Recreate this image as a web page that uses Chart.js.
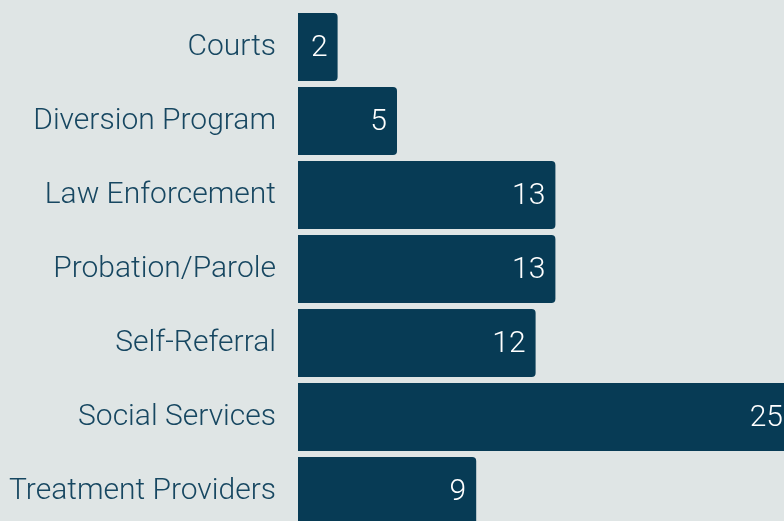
<!DOCTYPE html>
<html>
<head>
<meta charset="utf-8">
<script src="https://cdn.jsdelivr.net/npm/chart.js@4"></script>
<style>
  html, body { margin: 0; padding: 0; background: #dfe5e5; overflow: hidden; }
  #wrap { width: 784px; height: 521px; overflow: hidden; }
  canvas { display: block; }
</style>
</head>
<body>
<div id="wrap"><canvas id="referrals" width="800" height="528"></canvas></div>
<script>
const categories = [
  "Courts",
  "Diversion Program",
  "Law Enforcement",
  "Probation/Parole",
  "Self-Referral",
  "Social Services",
  "Treatment Providers",
];
const referralCounts = [2, 5, 13, 13, 12, 25, 9];

const BAR_COLOR = "#073b55";
const LABEL_COLOR = "#174761";
const FONT = "Roboto, 'Liberation Sans', sans-serif";

// writes each count inside the end of its bar
const valueLabels = {
  id: "valueLabels",
  afterDatasetsDraw(chart) {
    const { ctx } = chart;
    const meta = chart.getDatasetMeta(0);
    ctx.save();
    ctx.font = `300 30px ${FONT}`;
    ctx.fillStyle = "#ffffff";
    ctx.textAlign = "right";
    ctx.textBaseline = "middle";
    meta.data.forEach((bar, i) => {
      ctx.fillText(String(referralCounts[i]), bar.x - 10, bar.y + 1);
    });
    ctx.restore();
  },
};

new Chart(document.getElementById("referrals"), {
  type: "bar",
  data: {
    labels: categories,
    datasets: [{
      data: referralCounts,
      backgroundColor: BAR_COLOR,
      borderRadius: 4,
      borderSkipped: "start",
      barPercentage: 0.92,
      categoryPercentage: 1,
    }],
  },
  options: {
    indexAxis: "y",
    responsive: false,
    animation: false,
    layout: { padding: { top: 10, right: 7, bottom: 0, left: 0 } },
    plugins: {
      legend: { display: false },
      tooltip: { enabled: false },
    },
    scales: {
      x: {
        min: 0,
        max: 25,
        display: false,
      },
      y: {
        grid: { display: false, drawTicks: false },
        border: { display: false },
        afterFit: (scale) => {
          scale.width = 298;
          scale.paddingTop = 0;
          scale.paddingBottom = 0;
        },
        ticks: {
          color: LABEL_COLOR,
          padding: 22,
          font: { family: FONT, size: 30, weight: 300 },
        },
      },
    },
  },
  plugins: [valueLabels],
});
</script>
</body>
</html>
